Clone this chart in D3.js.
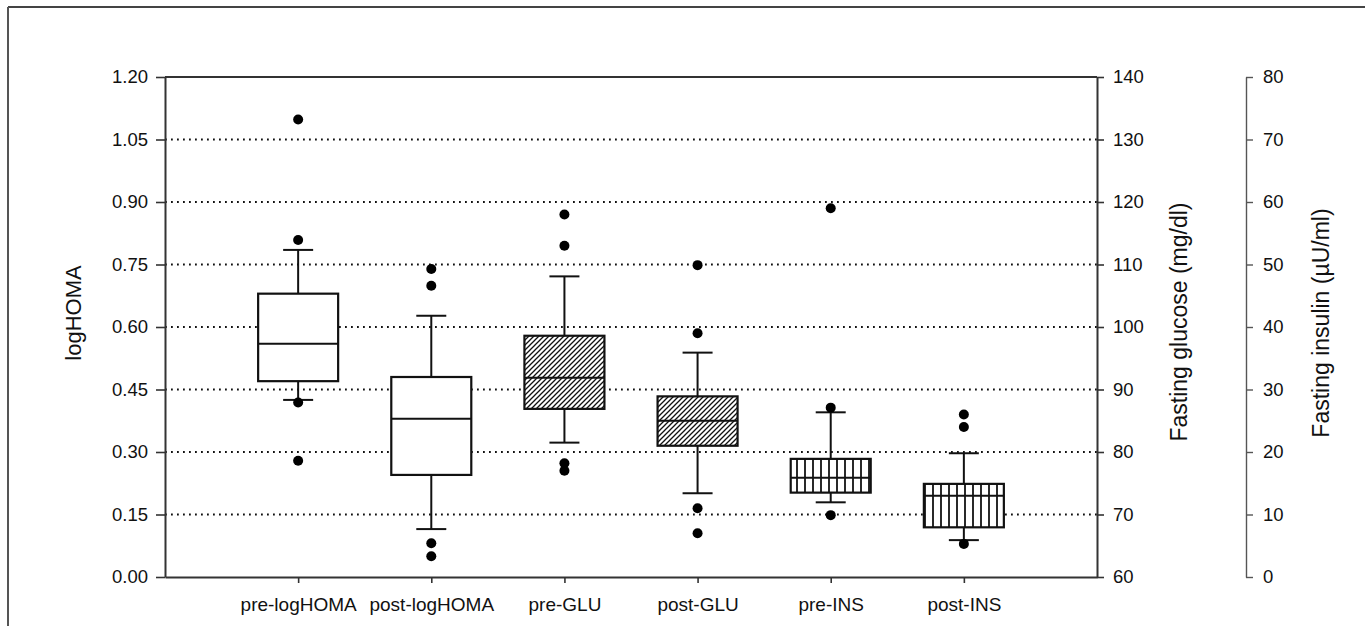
<!DOCTYPE html>
<html><head><meta charset="utf-8">
<script src="https://cdn.jsdelivr.net/npm/d3@7"></script>
<style>
body{margin:0;background:#fff}
text{font-family:"Liberation Sans",Arial,sans-serif;fill:#111}
</style>
</head><body>
<svg id="c" width="1365" height="626"></svg>
<script>
// ---- data ----
const categories = ["pre-logHOMA","post-logHOMA","pre-GLU","post-GLU","pre-INS","post-INS"];
const scaleKey   = ["homa","homa","glu","glu","ins","ins"];
const fillKind   = ["plain","plain","diag","diag","vert","vert"];
const q1          = [0.470, 0.245, 86.9, 81.0, 13.5, 7.95];
const medians     = [0.560, 0.380, 91.9, 85.0, 15.9, 13.0];
const q3          = [0.680, 0.480, 98.6, 88.9, 18.9, 14.9];
const whiskerLow  = [0.425, 0.115, 81.5, 73.4, 11.95, 5.9];
const whiskerHigh = [0.785, 0.627, 108.1, 95.9, 26.35, 19.8];
const outliers = [
  [1.098, 0.809, 0.419, 0.279],
  [0.739, 0.699, 0.081, 0.050],
  [118.0, 113.0, 78.2, 77.0],
  [109.9, 99.0, 71.0, 67.0],
  [59.0, 27.1, 9.9],
  [26.0, 24.0, 5.3]
];
const homaTicks = [0, 0.15, 0.30, 0.45, 0.60, 0.75, 0.90, 1.05, 1.20];
const homaMinor = d3.range(0, 1.2001, 0.03);
const gluTicks  = [60, 70, 80, 90, 100, 110, 120, 130, 140];
const insTicks  = [0, 10, 20, 30, 40, 50, 60, 70, 80];
const gridTicks = [0.15, 0.30, 0.45, 0.60, 0.75, 0.90, 1.05];

// ---- layout ----
const L = 165, R = 1097, T = 77, B = 577, INS_X = 1246;
const svg = d3.select("#c");
const ink = "#111";

const x = d3.scalePoint().domain(categories).range([L, R]).padding(1);
const scales = {
  homa: d3.scaleLinear().domain([0, 1.2]).range([B, T]),
  glu:  d3.scaleLinear().domain([60, 140]).range([B, T]),
  ins:  d3.scaleLinear().domain([0, 80]).range([B, T])
};
const yH = scales.homa;

// patterns
const defs = svg.append("defs");
const pd = defs.append("pattern").attr("id","diag").attr("patternUnits","userSpaceOnUse")
  .attr("width",5).attr("height",5);
pd.append("rect").attr("width",5).attr("height",5).attr("fill","#fff");
pd.append("path").attr("d","M-1,1 L1,-1 M0,5 L5,0 M4,6 L6,4").attr("stroke",ink).attr("stroke-width",1.3);
const pv = defs.append("pattern").attr("id","vert").attr("patternUnits","userSpaceOnUse")
  .attr("width",8).attr("height",8).attr("x", 1);
pv.append("rect").attr("width",8).attr("height",8).attr("fill","#fff");
pv.append("line").attr("x1",4).attr("x2",4).attr("y1",0).attr("y2",8).attr("stroke",ink).attr("stroke-width",1.8);

// outer frame (top + left)
svg.append("line").attr("x1",8).attr("x2",1365).attr("y1",7).attr("y2",7).attr("stroke","#444").attr("stroke-width",2);
svg.append("line").attr("x1",8).attr("x2",8).attr("y1",7).attr("y2",626).attr("stroke","#555").attr("stroke-width",2);

// gridlines
svg.append("g").selectAll("line").data(gridTicks).join("line")
  .attr("x1", L).attr("x2", R)
  .attr("y1", d => yH(d)).attr("y2", d => yH(d))
  .attr("stroke", ink).attr("stroke-width", 1.8)
  .attr("stroke-dasharray", "1.8,4.2");

// plot frame (top line)
svg.append("line").attr("x1",L).attr("x2",R).attr("y1",T).attr("y2",T).attr("stroke","#333").attr("stroke-width",2);

// left axis
const gL = svg.append("g").attr("transform",`translate(${L},0)`);
gL.call(d3.axisLeft(yH).tickValues(homaMinor).tickSize(4).tickFormat("").tickSizeOuter(0));
gL.call(d3.axisLeft(yH).tickValues(homaTicks).tickSize(9).tickPadding(8).tickSizeOuter(0).tickFormat(d3.format(".2f")));
gL.selectAll("path,line").attr("stroke","#333").attr("stroke-width",1.6);
gL.select(".domain").attr("stroke-width",2);
gL.selectAll("text").attr("font-size",18.5).attr("fill",ink);

// bottom axis
const gB = svg.append("g").attr("transform",`translate(0,${B})`);
gB.call(d3.axisBottom(x).tickSize(6).tickPadding(15).tickSizeOuter(0));
gB.selectAll("path,line").attr("stroke","#333").attr("stroke-width",1.6);
gB.select(".domain").attr("stroke-width",2);
gB.selectAll("text").attr("font-size",19).attr("fill",ink);

// glucose axis
const gG = svg.append("g").attr("transform",`translate(${R},0)`);
gG.call(d3.axisRight(scales.glu).tickValues(gluTicks).tickSize(7).tickPadding(9).tickSizeOuter(0));
gG.selectAll("path,line").attr("stroke","#333").attr("stroke-width",1.6);
gG.select(".domain").attr("stroke-width",2);
gG.selectAll("text").attr("font-size",18.5).attr("fill",ink);

// insulin axis
const gI = svg.append("g").attr("transform",`translate(${INS_X},0)`);
gI.call(d3.axisRight(scales.ins).tickValues(insTicks).tickSize(7).tickPadding(10).tickSizeOuter(0));
gI.selectAll("path,line").attr("stroke","#555").attr("stroke-width",1.4);
gI.selectAll("text").attr("font-size",18.5).attr("fill",ink);

// axis titles
svg.append("text").attr("transform",`translate(81,313) rotate(-90)`)
  .attr("text-anchor","middle").attr("font-size",22).text("logHOMA");
svg.append("text").attr("transform",`translate(1187,322) rotate(-90)`)
  .attr("text-anchor","middle").attr("font-size",23).text("Fasting glucose (mg/dl)");
svg.append("text").attr("transform",`translate(1329,323) rotate(-90)`)
  .attr("text-anchor","middle").attr("font-size",23).text("Fasting insulin (\u00b5U/ml)");

// boxes
const BW = 80, CW = 30;
const boxes = svg.append("g");
categories.forEach((c, i) => {
  const y = scales[scaleKey[i]];
  const cx = x(c);
  const g = boxes.append("g");
  const ln = (x1,y1,x2,y2) => g.append("line").attr("x1",x1).attr("y1",y1).attr("x2",x2).attr("y2",y2)
      .attr("stroke",ink).attr("stroke-width",2);
  ln(cx, y(q3[i]), cx, y(whiskerHigh[i]));
  ln(cx, y(q1[i]), cx, y(whiskerLow[i]));
  ln(cx - CW/2, y(whiskerHigh[i]), cx + CW/2, y(whiskerHigh[i]));
  ln(cx - CW/2, y(whiskerLow[i]), cx + CW/2, y(whiskerLow[i]));
  g.append("rect").attr("x", cx - BW/2).attr("y", y(q3[i]))
    .attr("width", BW).attr("height", y(q1[i]) - y(q3[i]))
    .attr("fill", fillKind[i] === "plain" ? "#fff" : `url(#${fillKind[i]})`)
    .attr("stroke", ink).attr("stroke-width", 2.2);
  ln(cx - BW/2, y(medians[i]), cx + BW/2, y(medians[i]));
  g.selectAll("circle").data(outliers[i]).join("circle")
    .attr("cx", cx).attr("cy", d => y(d)).attr("r", 5).attr("fill", "#000");
});
</script>
</body></html>
